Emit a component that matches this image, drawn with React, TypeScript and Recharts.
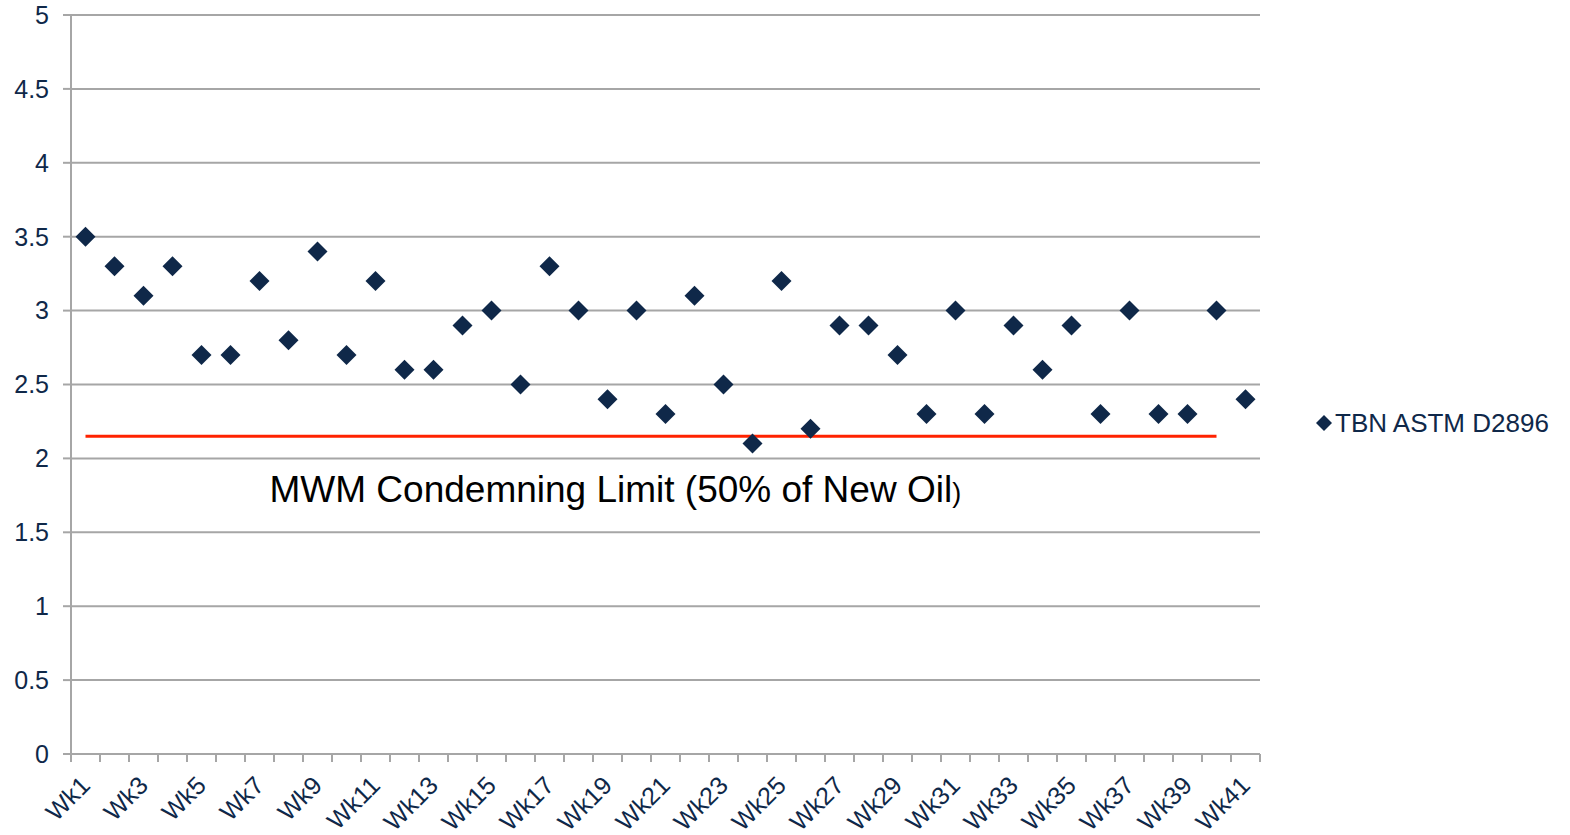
import { ComposedChart, Scatter, XAxis, YAxis, CartesianGrid, ReferenceLine, Legend } from 'recharts';

const weeks = [
  'Wk1', 'Wk2', 'Wk3', 'Wk4', 'Wk5', 'Wk6', 'Wk7', 'Wk8', 'Wk9', 'Wk10',
  'Wk11', 'Wk12', 'Wk13', 'Wk14', 'Wk15', 'Wk16', 'Wk17', 'Wk18', 'Wk19', 'Wk20',
  'Wk21', 'Wk22', 'Wk23', 'Wk24', 'Wk25', 'Wk26', 'Wk27', 'Wk28', 'Wk29', 'Wk30',
  'Wk31', 'Wk32', 'Wk33', 'Wk34', 'Wk35', 'Wk36', 'Wk37', 'Wk38', 'Wk39', 'Wk40',
  'Wk41',
];
const tbn = [
  3.5, 3.3, 3.1, 3.3, 2.7, 2.7, 3.2, 2.8, 3.4, 2.7,
  3.2, 2.6, 2.6, 2.9, 3.0, 2.5, 3.3, 3.0, 2.4, 3.0,
  2.3, 3.1, 2.5, 2.1, 3.2, 2.2, 2.9, 2.9, 2.7, 2.3,
  3.0, 2.3, 2.9, 2.6, 2.9, 2.3, 3.0, 2.3, 2.3, 3.0,
  2.4,
];
const yTicks = [0, 0.5, 1, 1.5, 2, 2.5, 3, 3.5, 4, 4.5, 5];
const limit = 2.15;
const limitLabel = 'MWM Condemning Limit (50% of New Oil';
const seriesName = 'TBN ASTM D2896';

const data = weeks.map((w, i) => ({ week: w, tbn: tbn[i] }));

const NAVY = '#0F2849';
const GRID = '#A6A6A6';
const FONT = '"Liberation Sans", Arial, Helvetica, sans-serif';

const W = 1570;
const H = 835;
const Y_AXIS_W = 71;
const RIGHT = 310;
const BAND = (W - Y_AXIS_W - RIGHT) / weeks.length;

function Diamond(props: any) {
  const { cx, cy } = props;
  if (cx == null || cy == null) return null;
  const r = 10;
  return <polygon points={`${cx},${cy - r} ${cx + r},${cy} ${cx},${cy + r} ${cx - r},${cy}`} fill={NAVY} />;
}

function WeekTick(props: any) {
  const { x, y, payload, index } = props;
  const left = x - BAND / 2;
  const last = index === weeks.length - 1;
  const tx = x + 6;
  const ty = y + 25;
  return (
    <g>
      <line x1={left} y1={y - 8} x2={left} y2={y} stroke={GRID} strokeWidth={2} />
      {last && <line x1={x + BAND / 2} y1={y - 8} x2={x + BAND / 2} y2={y} stroke={GRID} strokeWidth={2} />}
      {index % 2 === 0 && (
        <text
          x={tx}
          y={ty}
          textAnchor="end"
          transform={`rotate(-45, ${tx}, ${ty})`}
          fontSize={25}
          fontFamily={FONT}
          fill={NAVY}
        >
          {payload.value}
        </text>
      )}
    </g>
  );
}

function LimitLabel(props: any) {
  const vb = props.viewBox || {};
  return (
    <text x={vb.x + 184} y={vb.y + 66} fontFamily={FONT} fill="#000">
      <tspan fontSize={37}>{limitLabel}</tspan>
      <tspan fontSize={27}>)</tspan>
    </text>
  );
}

function LegendContent() {
  return (
    <svg width={250} height={34}>
      <polygon points="14,9 22,17 14,25 6,17" fill={NAVY} />
      <text x={25} y={26} fontSize={26} fontFamily={FONT} fill={NAVY}>
        {seriesName}
      </text>
    </svg>
  );
}

export default function App() {
  return (
    <div style={{ position: 'absolute', left: 0, top: 0, background: '#fff' }}>
      <ComposedChart width={W} height={H} data={data} margin={{ top: 15, right: RIGHT, bottom: 0, left: 0 }}>
        <CartesianGrid vertical={false} stroke={GRID} strokeWidth={2} />
        <XAxis
          dataKey="week"
          type="category"
          scale="band"
          interval={0}
          height={81}
          tickLine={false}
          axisLine={{ stroke: GRID, strokeWidth: 2 }}
          tick={<WeekTick />}
        />
        <YAxis
          type="number"
          domain={[0, 5]}
          ticks={yTicks}
          width={Y_AXIS_W}
          tickSize={8}
          tickMargin={14}
          axisLine={{ stroke: GRID, strokeWidth: 2 }}
          tickLine={{ stroke: GRID, strokeWidth: 2 }}
          tick={{ fontSize: 25, fontFamily: FONT, fill: NAVY }}
        />
        <ReferenceLine
          segment={[{ x: 'Wk1', y: limit }, { x: 'Wk40', y: limit }]}
          stroke="#FF2200"
          strokeWidth={3}
          label={<LimitLabel />}
        />
        <Scatter name={seriesName} dataKey="tbn" fill={NAVY} shape={<Diamond />} isAnimationActive={false} />
        <Legend
          layout="vertical"
          verticalAlign="middle"
          align="center"
          content={<LegendContent />}
          wrapperStyle={{ left: 1310, top: 406, width: 250 }}
        />
      </ComposedChart>
    </div>
  );
}
